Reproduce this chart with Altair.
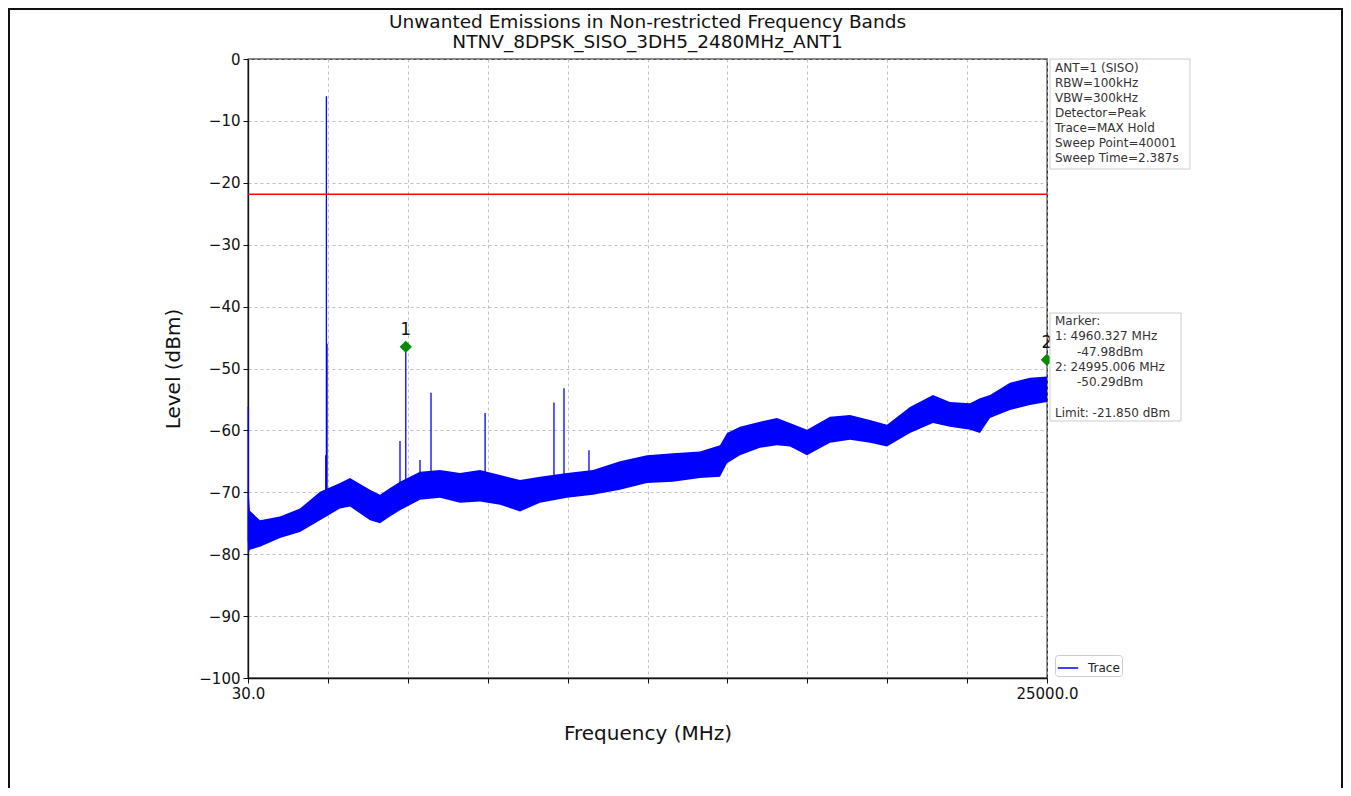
import altair as alt
import pandas as pd

# ---- data ----
TITLE = ["Unwanted Emissions in Non-restricted Frequency Bands",
         "NTNV_8DPSK_SISO_3DH5_2480MHz_ANT1"]

# noise-floor envelope of the trace (MHz, lower dBm, upper dBm)
env_freq = [30, 90, 405, 1030, 1655, 2280, 2905, 3218, 3843, 4155, 4468, 4780,
            5405, 6030, 6655, 7280, 7905, 8530, 9155, 10000, 10810, 11655,
            12500, 13310, 14155, 14780, 15000, 15405, 16030, 16560, 16968,
            17500, 18218, 18843, 19468, 20000, 20718, 21436, 21968, 22593,
            22905, 23218, 23843, 24468, 25000]
env_low = [-80.0, -79.3, -78.8, -77.4, -76.4, -74.5, -72.6, -72.3, -74.5, -75.0,
           -73.9, -72.9, -71.2, -70.9, -71.7, -71.5, -72.0, -73.1, -71.7, -70.9,
           -70.4, -69.6, -68.5, -68.3, -67.7, -67.5, -65.3, -64.0, -62.8, -62.4,
           -62.6, -64.0, -62.0, -61.5, -62.0, -62.6, -60.4, -58.8, -59.4, -59.9,
           -60.4, -58.0, -56.7, -55.9, -55.4]
env_high = [-68.0, -73.0, -74.5, -73.9, -72.6, -69.9, -68.5, -67.7, -69.6, -70.4,
            -69.3, -68.3, -66.7, -66.4, -66.9, -66.4, -67.2, -68.0, -67.5, -66.9,
            -66.4, -65.0, -64.0, -63.7, -63.4, -62.4, -60.4, -59.4, -58.6, -58.0,
            -58.8, -59.9, -57.8, -57.5, -58.3, -59.1, -56.2, -54.3, -55.4, -55.6,
            -54.8, -54.3, -52.3, -51.5, -51.3]

# discrete spurs (MHz, base dBm, peak dBm)
spur_freq = [40, 2460, 2480, 2500, 4780, 4960.327, 5405, 5749, 7440, 9592, 9905, 10686]
spur_base = [-78, -70, -70, -70, -70, -70, -68, -68, -68, -70, -70, -68]
spur_peak = [-56.2, -64.0, -6.0, -46.0, -61.7, -46.5, -64.8, -53.9, -57.2, -55.5, -53.2, -63.2]

# markers (MHz, dBm as drawn, label)
mk_freq = [4960.327, 24995.006]
mk_level = [-46.5, -48.6]
mk_label = ["1", "2"]

LIMIT = -21.85

info_lines = ["ANT=1 (SISO)", "RBW=100kHz", "VBW=300kHz", "Detector=Peak",
              "Trace=MAX Hold", "Sweep Point=40001", "Sweep Time=2.387s"]
# (text, indented?) ; empty string = blank line
marker_lines = [("Marker:", False), ("1: 4960.327 MHz", False), ("-47.98dBm", True),
                ("2: 24995.006 MHz", False), ("-50.29dBm", True), ("", False),
                ("Limit: -21.850 dBm", False)]

x_ticks = [30 + i * (25000 - 30) / 10 for i in range(11)]
y_ticks = list(range(-100, 1, 10))

FONT = "DejaVu Sans"
BLUE = "#0000ff"
W, H = 799, 619

env = pd.DataFrame({"f": env_freq, "lo": env_low, "hi": env_high})
spurs = pd.DataFrame({"f": spur_freq, "base": spur_base, "peak": spur_peak,
                      "series": ["Trace"] * len(spur_freq)})
marks = pd.DataFrame({"f": mk_freq, "lvl": mk_level, "lab": mk_label})
limit = pd.DataFrame({"lim": [LIMIT]})
one = pd.DataFrame({"k": [0]})

xscale = alt.Scale(domain=[30, 25000], nice=False, zero=False)
yscale = alt.Scale(domain=[-100, 0], nice=False, zero=False)

xaxis = alt.Axis(values=x_ticks, title="Frequency (MHz)",
                 labelExpr="(datum.value == 30 || datum.value == 25000) ? format(datum.value, '.1f') : ''",
                 labelOverlap=False, labelFlush=False, titlePadding=22)
yaxis = alt.Axis(values=y_ticks, title="Level (dBm)", titlePadding=15, format="d")

band = alt.Chart(env).mark_area(color=BLUE, opacity=1, line=False).encode(
    x=alt.X("f:Q", scale=xscale, axis=xaxis),
    y=alt.Y("lo:Q", scale=yscale, axis=yaxis),
    y2="hi:Q",
)

spur = alt.Chart(spurs).mark_rule(strokeWidth=1.3).encode(
    x=alt.X("f:Q", scale=xscale),
    y=alt.Y("base:Q", scale=yscale),
    y2="peak:Q",
    color=alt.Color("series:N", scale=alt.Scale(range=[BLUE]),
                    legend=alt.Legend(title=None, orient="none", legendX=807, legendY=596,
                                      symbolType="stroke", symbolStrokeWidth=1.5,
                                      symbolSize=420, labelFontSize=12, labelFont=FONT,
                                      labelColor="#222", padding=2, strokeColor="#cccccc",
                                      fillColor="white", cornerRadius=3, labelOffset=9)),
)

lim = alt.Chart(limit).mark_rule(color="#ff0000", strokeWidth=1.3).encode(
    y=alt.Y("lim:Q", scale=yscale))

pts = alt.Chart(marks).mark_point(shape="diamond", filled=True, color="#0a8a0a",
                                  size=150, opacity=1).encode(
    x=alt.X("f:Q", scale=xscale), y=alt.Y("lvl:Q", scale=yscale))

labs = alt.Chart(marks).mark_text(dy=-17, fontSize=17, font=FONT, color="#111").encode(
    x=alt.X("f:Q", scale=xscale), y=alt.Y("lvl:Q", scale=yscale), text="lab:N")

layers = []

# outer image frame
layers.append(alt.Chart(one).mark_rect(fill=None, stroke="#111", strokeWidth=2).encode(
    x=alt.value(-239), x2=alt.value(1094), y=alt.value(-50), y2=alt.value(740)))

layers += [band, spur, lim, pts, labs]

# title lines
for i, line in enumerate(TITLE):
    layers.append(alt.Chart(one).mark_text(fontSize=18.5, font=FONT, color="#111",
                                           align="center", baseline="middle").encode(
        x=alt.value(W / 2), y=alt.value(-37 + 20 * i), text=alt.value(line)))

# info box 1
layers.append(alt.Chart(one).mark_rect(fill="white", stroke="#cccccc", strokeWidth=1).encode(
    x=alt.value(802), x2=alt.value(942), y=alt.value(0), y2=alt.value(110)))
for i, line in enumerate(info_lines):
    layers.append(alt.Chart(one).mark_text(align="left", baseline="middle", fontSize=12,
                                           font=FONT, color="#333").encode(
        x=alt.value(807), y=alt.value(9 + 15 * i), text=alt.value(line)))

# info box 2 (markers / limit)
layers.append(alt.Chart(one).mark_rect(fill="white", stroke="#cccccc", strokeWidth=1).encode(
    x=alt.value(802), x2=alt.value(933), y=alt.value(254), y2=alt.value(362)))
for i, (line, ind) in enumerate(marker_lines):
    if not line:
        continue
    layers.append(alt.Chart(one).mark_text(align="left", baseline="middle", fontSize=12,
                                           font=FONT, color="#333").encode(
        x=alt.value(807 + (22 if ind else 0)), y=alt.value(262 + 15.3 * i),
        text=alt.value(line)))

chart = alt.layer(*layers).properties(
    width=W, height=H,
    autosize="none",
    background="white",
    padding={"left": 240, "top": 51, "right": 296, "bottom": 110},
).configure_view(stroke="#111", strokeWidth=1.3).configure_axis(
    labelFont=FONT, titleFont=FONT, labelFontSize=15, titleFontSize=20,
    titleFontWeight="normal", labelColor="#111", titleColor="#111",
    domainColor="#111", tickColor="#111", tickSize=5, labelPadding=3,
    gridColor="#b0b0b0", gridDash=[3, 3], gridWidth=0.8, domainWidth=1.3,
)

chart.save("out.html", embed_options={"renderer": "svg", "actions": False})
